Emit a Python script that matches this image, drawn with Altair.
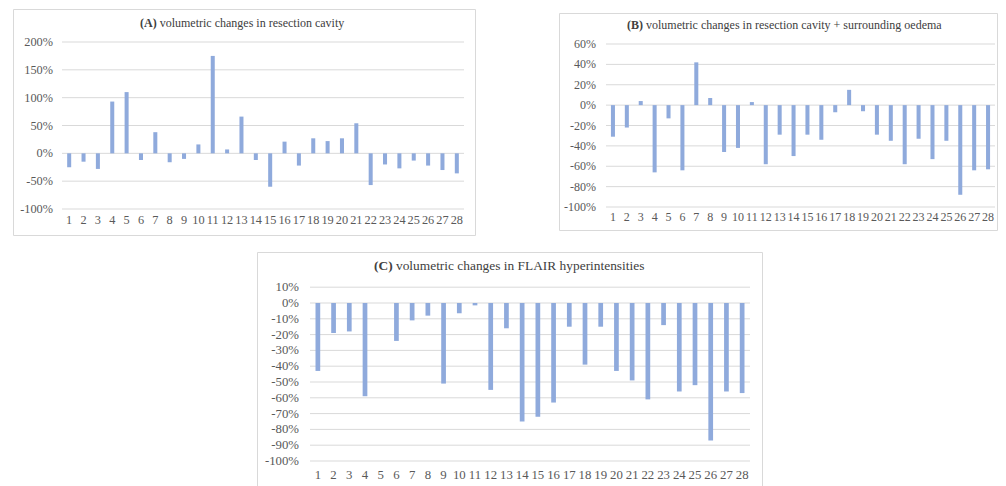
import altair as alt
import pandas as pd

# ---------------- data ----------------
patients = [1, 2, 3, 4, 5, 6, 7, 8, 9, 10, 11, 12, 13, 14,
            15, 16, 17, 18, 19, 20, 21, 22, 23, 24, 25, 26, 27, 28]

# (A) volumetric changes in resection cavity (%)
cavity = [-25, -15, -28, 93, 110, -12, 38, -16, -10, 16, 175, 7, 66, -12,
          -60, 21, -22, 27, 22, 27, 54, -57, -20, -27, -13, -22, -30, -36]

# (B) volumetric changes in resection cavity + surrounding oedema (%)
cavity_oedema = [-31, -22, 4, -66, -13, -64, 42, 7, -46, -42, 3, -58, -29, -50,
                 -29, -34, -7, 15, -6, -29, -35, -58, -33, -53, -35, -88, -64, -63]

# (C) volumetric changes in FLAIR hyperintensities (%)
flair = [-43, -19, -18, -59, 0, -24, -11, -8, -51, -6.5, -1.5, -55, -16, -75,
         -72, -63, -15, -39, -15, -43, -49, -61, -14, -56, -52, -87, -56, -57]

ticks_a = [200, 150, 100, 50, 0, -50, -100]
ticks_b = [60, 40, 20, 0, -20, -40, -60, -80, -100]
ticks_c = [10, 0, -10, -20, -30, -40, -50, -60, -70, -80, -90, -100]

titles = [
    ("(A)", "volumetric changes in resection cavity"),
    ("(B)", "volumetric changes in resection cavity + surrounding oedema"),
    ("(C)", "volumetric changes in FLAIR hyperintensities"),
]

# ---------------- style ----------------
BAR = "#8FAADC"
GRID = "#D9D9D9"
FRAME = "#D9D9D9"
TXT = "#595959"
TITLE = "#404040"
FONT = "Liberation Serif"


def panel(vals, ticks, title, frame, xr, yr, ydom, ylab_x, xlab_y,
          title_x, title_y, fs, tfs, pad, prefix_em):
    bars_df = pd.DataFrame({"patient": patients, "value": vals})
    lab_df = pd.DataFrame({"patient": patients, "lab": [str(p) for p in patients]})
    ticks_df = pd.DataFrame({"tick": ticks, "label": [f"{t}%" for t in ticks]})
    one = pd.DataFrame({"k": [0]})

    xs = alt.Scale(domain=patients, range=xr, paddingInner=pad, paddingOuter=pad / 2)
    ys = alt.Scale(domain=ydom, range=yr, nice=False, zero=False)

    fx0, fx1, fy0, fy1 = frame
    frame_layer = alt.Chart(one).mark_rect(
        fill="white", stroke=FRAME, strokeWidth=1
    ).encode(x=alt.value(fx0), x2=alt.value(fx1), y=alt.value(fy0), y2=alt.value(fy1))

    grid = alt.Chart(ticks_df).mark_rule(color=GRID, strokeWidth=1).encode(
        y=alt.Y("tick:Q", scale=ys, axis=None),
        x=alt.value(xr[0]), x2=alt.value(xr[1]),
    )

    bars = alt.Chart(bars_df).mark_bar(color=BAR).encode(
        x=alt.X("patient:O", scale=xs, axis=None),
        y=alt.Y("value:Q", scale=ys, axis=None),
    )

    ylabels = alt.Chart(ticks_df).mark_text(
        align="right", baseline="middle", font=FONT, fontSize=fs, color=TXT
    ).encode(
        y=alt.Y("tick:Q", scale=ys, axis=None),
        x=alt.value(ylab_x),
        text="label:N",
    )

    xlabels = alt.Chart(lab_df).mark_text(
        align="center", baseline="middle", font=FONT, fontSize=fs, color=TXT
    ).encode(
        x=alt.X("patient:O", scale=xs, axis=None),
        y=alt.value(xlab_y),
        text="lab:N",
    )

    t_bold = alt.Chart(one).mark_text(
        align="left", baseline="middle", font=FONT, fontSize=tfs,
        fontWeight="bold", color=TITLE, text=title[0]
    ).encode(x=alt.value(title_x), y=alt.value(title_y))

    t_rest = alt.Chart(one).mark_text(
        align="left", baseline="middle", font=FONT, fontSize=tfs,
        color=TITLE, text=title[1]
    ).encode(x=alt.value(title_x + prefix_em * tfs), y=alt.value(title_y))

    return alt.layer(frame_layer, grid, bars, ylabels, xlabels, t_bold, t_rest)


pA = panel(cavity, ticks_a, titles[0],
           frame=(5.5, 467.5, 1.5, 227.5),
           xr=[54, 456], yr=[201, 34], ydom=[-100, 200],
           ylab_x=45, xlab_y=212, title_x=132, title_y=15,
           fs=12.3, tfs=12, pad=0.72, prefix_em=1.64)

pB = panel(cavity_oedema, ticks_b, titles[1],
           frame=(551.5, 989.5, 5.5, 222.5),
           xr=[598, 987], yr=[199, 36], ydom=[-100, 60],
           ylab_x=588, xlab_y=209, title_x=619, title_y=17,
           fs=12, tfs=12, pad=0.71, prefix_em=1.58)

pC = panel(flair, ticks_c, titles[2],
           frame=(249.5, 754.5, 244.5, 520),
           xr=[302, 742], yr=[453, 279.2], ydom=[-100, 10],
           ylab_x=291, xlab_y=467, title_x=366, title_y=258,
           fs=12.8, tfs=13.4, pad=0.70, prefix_em=1.64)

chart = alt.layer(pA, pB, pC).resolve_scale(
    x="independent", y="independent"
).properties(
    width=990, height=478, padding=0, autosize="none",
    background="white",
).configure_view(stroke=None)

chart.save("out.html", embed_options={"renderer": "svg", "actions": False})
